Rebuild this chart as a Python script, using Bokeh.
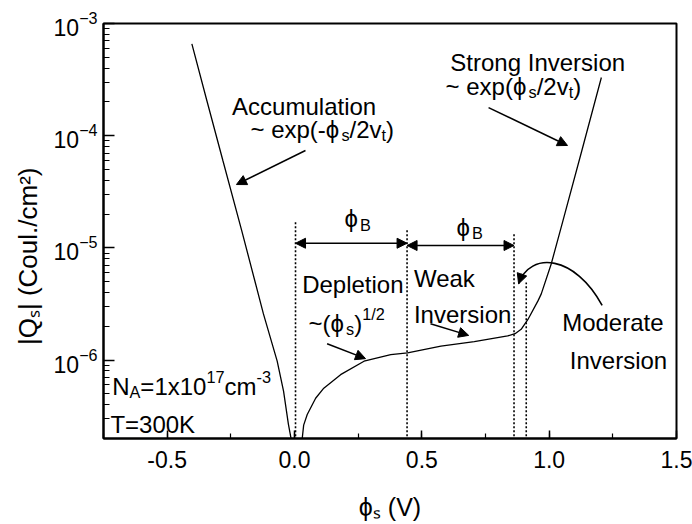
import math
from bokeh.plotting import figure
from bokeh.models import (Range1d, Label, Arrow, NormalHead, SingleIntervalTicker,
                          NumeralTickFormatter, LogTicker)
from bokeh.embed import file_html
from bokeh.resources import INLINE

# ---------------- data ----------------
# accumulation branch (phi_s < 0)
phi_acc = [-0.403, -0.344, -0.281, -0.207, -0.122, -0.068, -0.043, -0.024, -0.013, -0.008]
qs_acc = [6.59e-4, 2.05e-4, 5.98e-5, 1.42e-5, 2.58e-6, 9.79e-7, 5.28e-7, 2.69e-7, 1.97e-7, 1.26e-7]
# depletion / weak / moderate / strong inversion branch
phi_inv = [0.022, 0.030, 0.036, 0.050, 0.083, 0.115, 0.181, 0.273, 0.378, 0.444, 0.575,
           0.706, 0.837, 0.866, 0.890, 0.916, 0.956, 0.969, 1.008, 1.054, 1.125, 1.205]
qs_inv = [1.26e-7, 1.97e-7, 2.63e-7, 3.27e-7, 4.57e-7, 5.62e-7, 7.41e-7, 9.77e-7, 1.12e-6,
          1.16e-6, 1.33e-6, 1.46e-6, 1.64e-6, 1.72e-6, 1.88e-6, 2.29e-6, 3.37e-6, 3.89e-6,
          7.19e-6, 1.74e-5, 6.90e-5, 3.30e-4]
# dotted region boundaries (0, phi_B, 2 phi_B, moderate inversion edge)
guide_x = [0.004, 0.442, 0.862, 0.910]
guide_top = [1.69e-5, 1.46e-5, 1.37e-5, 4.92e-6]

X_START, X_END = -0.75, 1.5
Y_START, Y_END = 2e-7, 1e-3
x_title = "ϕₛ (V)"
y_title = "|Qₛ| (Coul./cm²)"

# ---------------- layout ----------------
W, H = 692, 524
BL, BR, BT, BB = 103, 16, 23, 86
FONT = "Liberation Sans"

p = figure(width=W, height=H, x_range=Range1d(X_START, X_END), y_range=Range1d(Y_START, Y_END),
           y_axis_type="log", output_backend="svg", toolbar_location=None,
           min_border_left=BL, min_border_right=BR, min_border_top=BT, min_border_bottom=BB)
p.grid.visible = False
p.background_fill_color = "white"
p.border_fill_color = "white"
p.outline_line_color = "black"
p.outline_line_width = 2

PXV = (W - BL - BR) / (X_END - X_START)                       # px per volt
PXD = (H - BT - BB) / (math.log10(Y_END) - math.log10(Y_START))  # px per decade

# axes
p.xaxis.ticker = SingleIntervalTicker(interval=0.5, num_minor_ticks=2)
p.xaxis.formatter = NumeralTickFormatter(format="0.0")
p.yaxis.ticker = LogTicker(num_minor_ticks=10)
for ax in (p.xaxis, p.yaxis):
    ax.axis_line_color = "black"
    ax.axis_line_width = 2
    ax.major_tick_line_color = "black"
    ax.minor_tick_line_color = "black"
    ax.major_tick_line_width = 1.5
    ax.minor_tick_line_width = 1.2
    ax.major_tick_out = 0
    ax.minor_tick_out = 0
    ax.major_label_text_font = FONT
    ax.major_label_text_font_size = "23px"
    ax.major_label_text_color = "black"
    ax.axis_label_text_font = FONT
    ax.axis_label_text_font_style = "normal"
    ax.axis_label_text_color = "black"
p.xaxis.major_tick_in = 8
p.xaxis.minor_tick_in = 5
p.yaxis.major_tick_in = 11
p.yaxis.minor_tick_in = 6
p.xaxis.major_label_standoff = 12
p.yaxis.major_label_standoff = 6

p.xaxis.axis_label = x_title
p.xaxis.axis_label_text_font_size = "25px"
p.xaxis.axis_label_standoff = 22
# trailing no-break spaces push the vertical title down, as in the reference
p.yaxis.axis_label = y_title + "\u00a0" * 7
p.yaxis.axis_label_text_font_size = "26px"
p.yaxis.axis_label_standoff = 8

# ---------------- curves ----------------
p.line(phi_acc, qs_acc, line_color="black", line_width=1.3)
p.line(phi_inv, qs_inv, line_color="black", line_width=1.3)

# dotted guides
p.segment(x0=guide_x, y0=[Y_START * 0.5] * len(guide_x), x1=guide_x, y1=guide_top,
          line_color="black", line_width=1.6, line_dash="2 2")

# ---------------- text helpers ----------------
WID = {' ': .278, '(': .333, ')': .333, '-': .333, '.': .278, '/': .278, '=': .584, '~': .584,
       '|': .26, 'A': .667, 'B': .667, 'C': .722, 'D': .722, 'I': .278, 'K': .667, 'M': .833,
       'N': .722, 'Q': .778, 'S': .667, 'T': .611, 'V': .667, 'W': .944, 'a': .556, 'c': .5,
       'd': .556, 'e': .556, 'g': .556, 'i': .222, 'k': .5, 'l': .222, 'm': .833, 'n': .556,
       'o': .556, 'p': .556, 'r': .333, 's': .5, 't': .278, 'u': .556, 'v': .5, 'x': .5,
       'ϕ': .65}
LIFT = 9.5  # px: baseline correction of the Label text box


def tw(s, size):
    return sum(WID.get(c, .556) for c in s) * size


def rich(x, y, parts, size=24):
    adv = 0.0
    for txt, kind in parts:
        fs = size if kind == 'n' else size * 0.68
        shift = {'n': 0.0, 'b': size * 0.25, 'p': -size * 0.38}[kind]  # +: downward
        lx = x + adv / PXV
        ly = y * 10 ** ((LIFT - shift) / PXD)
        p.add_layout(Label(x=lx, y=ly, text=txt, text_font=FONT,
                           text_font_size=f"{fs:.1f}px", text_color="black",
                           text_align="left", text_baseline="alphabetic"))
        adv += tw(txt, fs)


# ---------------- annotations ----------------
rich(-0.245, 1.51e-4, [("Accumulation", 'n')])
rich(-0.173, 9.44e-5, [("~ exp(-ϕ", 'n'), ("s", 'b'), ("/2v", 'n'), ("t", 'b'), (")", 'n')])
rich(0.612, 3.73e-4, [("Strong Inversion", 'n')])
rich(0.593, 2.28e-4, [("~ exp(ϕ", 'n'), ("s", 'b'), ("/2v", 'n'), ("t", 'b'), (")", 'n')])
rich(0.030, 3.90e-6, [("Depletion", 'n')])
rich(0.469, 4.41e-6, [("Weak", 'n')])
rich(0.469, 2.11e-6, [("Inversion", 'n')])
rich(0.055, 1.76e-6, [("~(ϕ", 'n'), ("s", 'b'), (")", 'n'), ("1/2", 'p')])
rich(1.051, 1.77e-6, [("Moderate", 'n')])
rich(1.081, 8.20e-7, [("Inversion", 'n')])
rich(0.196, 1.49e-5, [("ϕ", 'n'), ("B", 'b')])
rich(0.636, 1.26e-5, [("ϕ", 'n'), ("B", 'b')])
rich(-0.716, 4.83e-7, [("N", 'n'), ("A", 'b'), ("=1x10", 'n'), ("17", 'p'), ("cm", 'n'), ("-3", 'p')])
rich(-0.723, 2.20e-7, [("T=300K", 'n')])


def arrow(x0, y0, x1, y1, both=False):
    head = dict(size=10, fill_color="black", line_color="black", line_width=1)
    p.add_layout(Arrow(x_start=x0, y_start=y0, x_end=x1, y_end=y1,
                       end=NormalHead(**head), start=NormalHead(**head) if both else None,
                       line_color="black", line_width=1.5))


arrow(0.762, 1.78e-4, 1.072, 8.18e-5)      # strong inversion
arrow(0.043, 7.38e-5, -0.228, 3.67e-5)     # accumulation
arrow(0.128, 1.40e-6, 0.279, 1.03e-6)      # depletion
arrow(0.534, 2.11e-6, 0.684, 1.66e-6)      # weak inversion
arrow(0.004, 1.10e-5, 0.442, 1.10e-5, both=True)   # phi_B
arrow(0.442, 1.05e-5, 0.862, 1.05e-5, both=True)   # phi_B

# curved arrow for moderate inversion
p.bezier(x0=[1.208], y0=[3.07e-6], x1=[0.880], y1=[4.79e-6],
         cx0=[1.103], cy0=[8.55e-6], cx1=[0.926], cy1=[9.48e-6],
         line_color="black", line_width=1.6)
arrow(0.894, 5.87e-6, 0.880, 4.79e-6)

open("out.html", "w").write(file_html(p, INLINE))
